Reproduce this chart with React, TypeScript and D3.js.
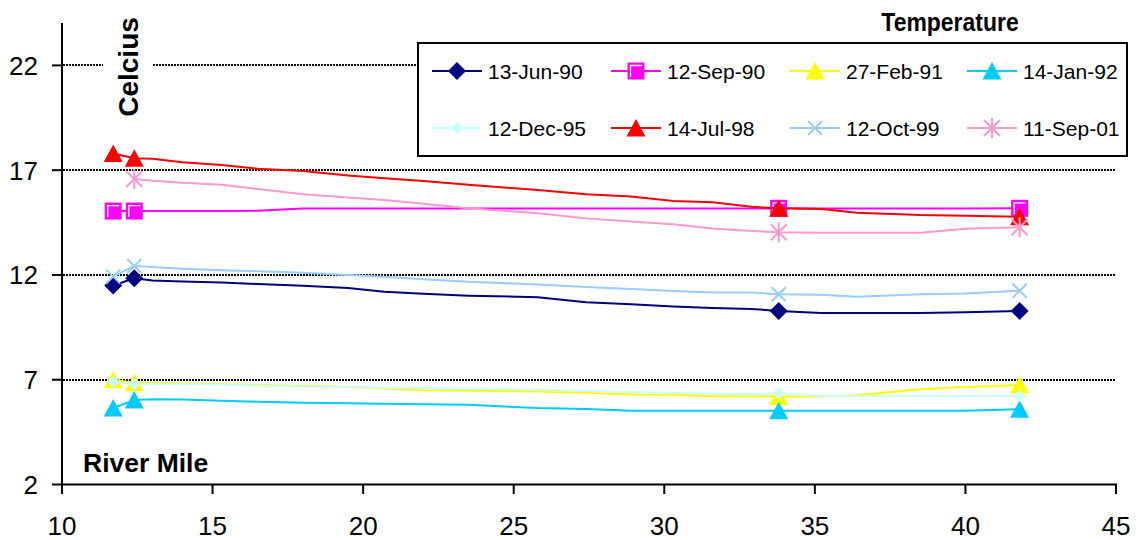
import React from "react";
import * as d3 from "d3";

// River miles (x values) — markers shown only at the sampled stations
const miles = [11.7, 12.4, 13, 14, 15.3, 16.5, 18, 19.5, 20.7, 22, 23.5, 25.8, 27.4, 28.9, 30.3, 31.6, 32.9, 33.8, 35.2, 36.4, 38.5, 40, 41.8];
const markerIdx = [0, 1, 17, 22];

const jun90 = [11.5, 11.84, 11.73, 11.69, 11.64, 11.57, 11.49, 11.38, 11.2, 11.1, 11.01, 10.94, 10.7, 10.6, 10.49, 10.42, 10.38, 10.28, 10.19, 10.19, 10.19, 10.22, 10.28];
const sep90 = [15.05, 15.05, 15.05, 15.05, 15.05, 15.06, 15.17, 15.17, 15.17, 15.17, 15.17, 15.17, 15.17, 15.17, 15.17, 15.17, 15.17, 15.18, 15.17, 15.17, 15.17, 15.17, 15.18];
const feb91 = [7.0, 6.85, 6.85, 6.82, 6.78, 6.75, 6.7, 6.65, 6.58, 6.5, 6.48, 6.44, 6.38, 6.3, 6.28, 6.21, 6.21, 6.2, 6.2, 6.26, 6.55, 6.65, 6.75];
const jan92 = [5.65, 6.03, 6.07, 6.06, 6.0, 5.95, 5.9, 5.88, 5.85, 5.83, 5.8, 5.65, 5.6, 5.52, 5.52, 5.52, 5.52, 5.52, 5.52, 5.52, 5.52, 5.52, 5.59];
const dec95 = [6.9, 6.8, 6.8, 6.79, 6.76, 6.72, 6.68, 6.64, 6.62, 6.59, 6.57, 6.52, 6.46, 6.42, 6.38, 6.33, 6.3, 6.35, 6.22, 6.22, 6.22, 6.22, 6.22];
const jul98 = [17.8, 17.57, 17.55, 17.38, 17.25, 17.07, 16.96, 16.75, 16.62, 16.48, 16.3, 16.05, 15.85, 15.74, 15.53, 15.47, 15.25, 15.18, 15.15, 14.97, 14.86, 14.83, 14.78];
const oct99 = [11.92, 12.43, 12.38, 12.3, 12.22, 12.18, 12.11, 12.0, 11.92, 11.8, 11.67, 11.55, 11.42, 11.33, 11.24, 11.16, 11.16, 11.08, 11.05, 10.96, 11.08, 11.12, 11.25];
const sep01 = [null, 16.58, 16.5, 16.4, 16.3, 16.1, 15.85, 15.7, 15.58, 15.4, 15.18, 14.95, 14.7, 14.55, 14.42, 14.22, 14.1, 14.04, 14.02, 14.02, 14.02, 14.2, 14.28];

const seriesNames = ["13-Jun-90", "12-Sep-90", "27-Feb-91", "14-Jan-92", "12-Dec-95", "14-Jul-98", "12-Oct-99", "11-Sep-01"];
const seriesValues = [jun90, sep90, feb91, jan92, dec95, jul98, oct99, sep01];
const seriesColors = ["#000080", "#FF00FF", "#FFFF00", "#00CCFF", "#CCFFFF", "#FF0000", "#99CCFF", "#FF99CC"];
const seriesMarkers = ["diamond", "square", "triangle", "triangle", "smalldiamond", "triangle", "x", "star"];

const xTicks = [10, 15, 20, 25, 30, 35, 40, 45];
const yTicks = [2, 7, 12, 17, 22];
const gridTicks = [7, 12, 17, 22];

const W = 1138, H = 540;
const FONT = "Arial, 'Liberation Sans', Helvetica, sans-serif";

const x = d3.scaleLinear().domain([10, 45]).range([62, 1116]);
const y = d3.scaleLinear().domain([2, 24]).range([484.5, 23.5]);

function Marker({ type, cx, cy, color }: { type: string; cx: number; cy: number; color: string }) {
  const t = `translate(${cx},${cy})`;
  switch (type) {
    case "diamond":
      return <path transform={t} d="M0,-9L9,0L0,9L-9,0Z" fill={color} />;
    case "smalldiamond":
      return <path transform={t} d="M0,-6L6.5,0L0,6L-6.5,0Z" fill={color} />;
    case "square":
      return (
        <g transform={t}>
          <rect x={-8.5} y={-8.5} width={17} height={17} fill={color} />
          <path d="M-5.5,6V-5.5H6" fill="none" stroke="#fff" strokeWidth={1.3} />
        </g>
      );
    case "triangle":
      return <path transform={t} d="M0,-9L9.5,8.5L-9.5,8.5Z" fill={color} />;
    case "x":
      return <path transform={t} d="M-7,-7L7,7M-7,7L7,-7" stroke={color} strokeWidth={2} fill="none" />;
    case "star":
      return <path transform={t} d="M-8,-8L8,8M-8,8L8,-8M0,-10V10" stroke={color} strokeWidth={2} fill="none" />;
    default:
      return null;
  }
}

function T({ x: tx, y: ty, size, bold, anchor, sx = 1, children, rotate }: any) {
  const tr = rotate ? `translate(${tx},${ty}) rotate(${rotate}) scale(${sx},1)` : `translate(${tx},${ty}) scale(${sx},1)`;
  return (
    <text transform={tr} fontFamily={FONT} fontSize={size} fontWeight={bold ? "bold" : "normal"} textAnchor={anchor || "start"} fill="#000">
      {children}
    </text>
  );
}

export default function App() {
  const line = d3
    .line<number | null>()
    .defined((d) => d != null)
    .x((_, i) => x(miles[i]))
    .y((d) => y(d as number));

  const legendCols = [432, 611, 790, 967];
  const legendRows = [71, 128];

  return (
    <svg width={W} height={H} style={{ position: "absolute", left: 0, top: 0, background: "#fff" }}>
      <rect x={0} y={0} width={W} height={H} fill="#fff" />
      {/* gridlines */}
      {gridTicks.map((v) => (
        <line key={v} x1={63} x2={1116} y1={Math.round(y(v))} y2={Math.round(y(v))} stroke="#000" strokeWidth={2} strokeDasharray="2,1" />
      ))}
      {/* axes */}
      <line x1={62} x2={62} y1={23} y2={485.5} stroke="#000" strokeWidth={2} />
      <line x1={61} x2={1117} y1={484.5} y2={484.5} stroke="#000" strokeWidth={2} />
      {yTicks.map((v) => (
        <g key={v}>
          <line x1={52} x2={62} y1={y(v)} y2={y(v)} stroke="#000" strokeWidth={2} />
          <T x={38} y={y(v) + 9.5} size={26} anchor="end">{v}</T>
        </g>
      ))}
      {xTicks.map((v) => (
        <g key={v}>
          <line x1={x(v)} x2={x(v)} y1={484.5} y2={494} stroke="#000" strokeWidth={2} />
          <T x={x(v)} y={535} size={26} anchor="middle">{v}</T>
        </g>
      ))}
      {/* series */}
      {seriesValues.map((vals, si) => (
        <g key={si}>
          <path d={line(vals) || ""} fill="none" stroke={seriesColors[si]} strokeWidth={2} />
          {markerIdx
            .filter((i) => vals[i] != null)
            .map((i) => (
              <Marker key={i} type={seriesMarkers[si]} cx={x(miles[i])} cy={y(vals[i] as number)} color={seriesColors[si]} />
            ))}
        </g>
      ))}
      {/* Celcius label with white background */}
      <rect x={103} y={10} width={50} height={115} fill="#fff" />
      <T x={138} y={67} size={28} bold anchor="middle" rotate={-90}>Celcius</T>
      {/* River Mile */}
      <T x={83} y={472} size={26.5} bold>River Mile</T>
      {/* Title */}
      <T x={950} y={31} size={25.5} bold anchor="middle" sx={0.9}>Temperature</T>
      {/* Legend */}
      <rect x={418} y={43} width={709} height={113} fill="#fff" stroke="#000" strokeWidth={2} />
      {seriesNames.map((name, si) => {
        const cx = legendCols[si % 4];
        const cy = legendRows[Math.floor(si / 4)];
        return (
          <g key={name}>
            <line x1={cx} x2={cx + 50} y1={cy} y2={cy} stroke={seriesColors[si]} strokeWidth={2} />
            <Marker type={seriesMarkers[si]} cx={cx + 25} cy={cy} color={seriesColors[si]} />
            <T x={cx + 56} y={cy + 7.5} size={21}>{name}</T>
          </g>
        );
      })}
    </svg>
  );
}
